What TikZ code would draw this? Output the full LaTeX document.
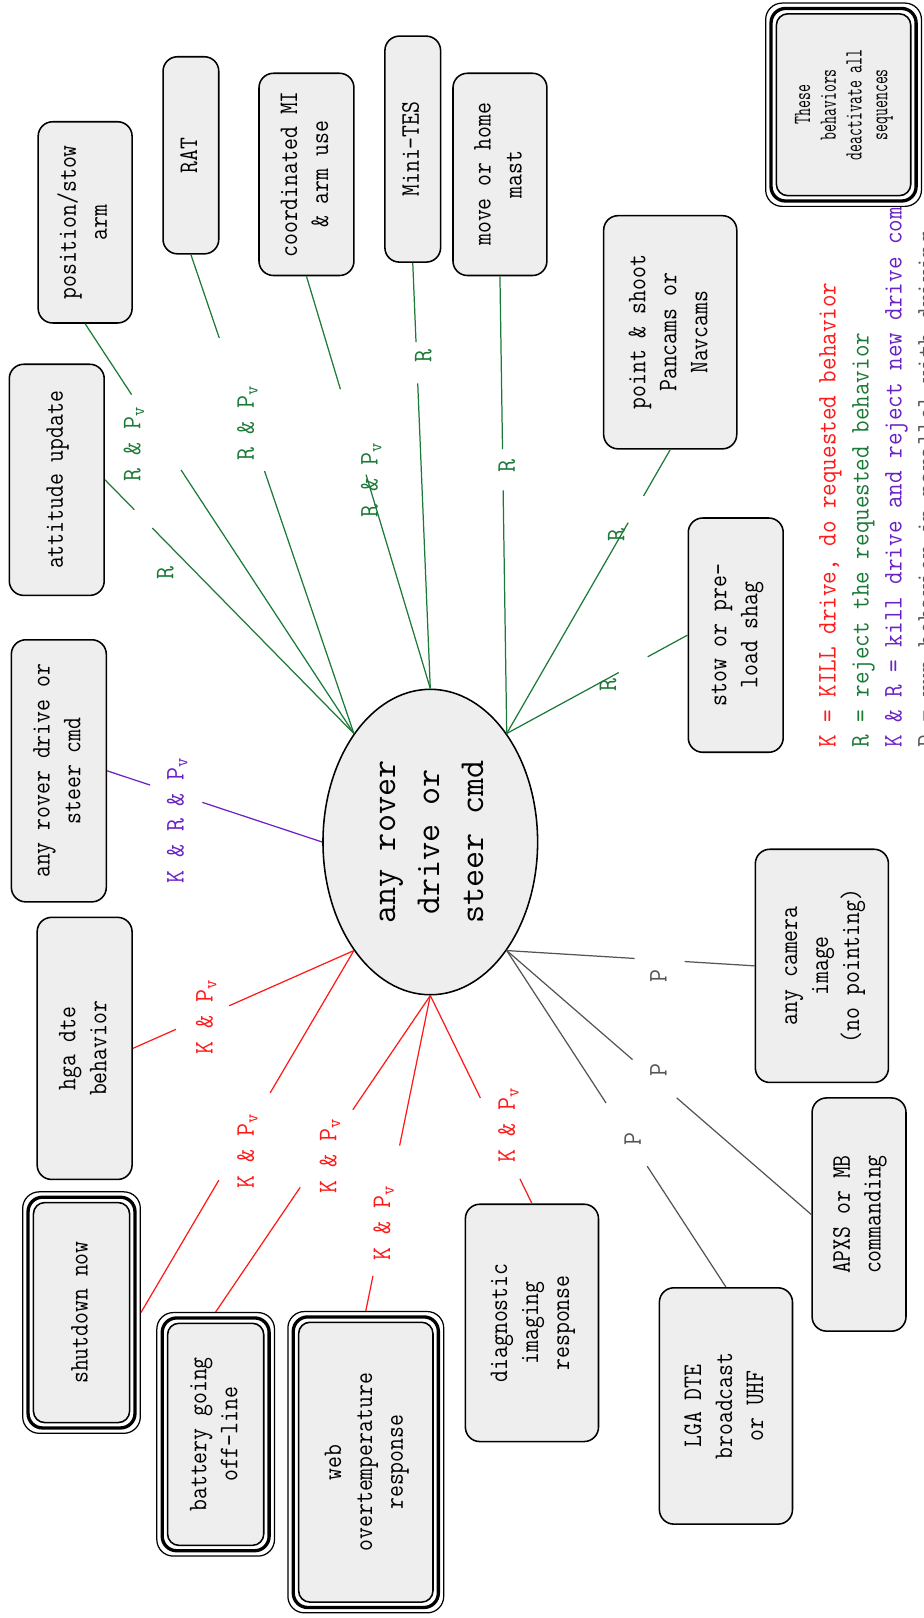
\documentclass[tikz,border=0pt]{standalone}
\usepackage{fontspec}
\usepackage{graphicx}
\usetikzlibrary{shapes.geometric,calc}
\definecolor{kred}{HTML}{FF1A1A}
\definecolor{rgreen}{HTML}{1C7A38}
\definecolor{kpurple}{HTML}{6A22C4}
\definecolor{pgray}{HTML}{555555}
\definecolor{boxfill}{HTML}{EEEEEE}
\newcommand{\boxfont}{\fontsize{13pt}{15pt}\selectfont\ttfamily}
\newcommand{\ellfont}{\fontsize{17pt}{21.3pt}\selectfont\ttfamily\addfontfeatures{FakeBold=1.2}}
\newcommand{\legfont}{\fontsize{13pt}{16pt}\selectfont\ttfamily}
\newcommand{\smfont}{\fontsize{12pt}{12.5pt}\selectfont\ttfamily}
\newcommand{\rottxt}[2][0.86]{\rotatebox{90}{\scalebox{#1}[1]{\begin{tabular}{@{}c@{}}#2\end{tabular}}}}
\newcommand{\gapedge}[5]{\draw[ln,#1] (#2) -- ($(#2)!#4!(#3)$) ($(#2)!#5!(#3)$) -- (#3);}
\begin{document}
\begin{tikzpicture}[x=0.5pt,y=-0.5pt,
  box/.style={draw=black, line width=0.75pt, fill=boxfill, rounded corners=7pt, inner sep=0pt, font=\boxfont},
  tri/.style={draw=black, line width=0.6pt, fill=white, rounded corners=8pt, inner sep=0pt},
  midline/.style={line width=1.6pt, rounded corners=7pt},
  ln/.style={line width=0.6pt},
  lbl/.style={inner sep=0pt, font=\boxfont}]
\useasboundingbox (0,0) rectangle (895,1568);

% legend (partly hidden by the box above and by the page edge)
\node[anchor=south west, inner sep=0pt] (legend) at (787,725) {\rotatebox{90}{\scalebox{0.91}[1]{\legfont\begin{tabular}{@{}l@{}}
\textcolor{kred}{K = KILL drive, do requested behavior}\\
\textcolor{rgreen}{R = reject the requested behavior}\\
\textcolor{kpurple}{K \& R = kill drive and reject new drive commands}\\
\textcolor{pgray}{P = run behavior in parallel with driving}
\end{tabular}}}};

% central ellipse
\node[ellipse, draw=black, line width=0.75pt, fill=boxfill, minimum width=104pt, minimum height=148pt, inner sep=0pt] (el) at (417,816)
  {\rotatebox{90}{\ellfont\begin{tabular}{@{}c@{}}any rover\\drive or\\steer cmd\end{tabular}}};

% plain boxes
\node[box, minimum width=46pt, minimum height=112pt] (attu) at (55,465) {\rottxt{attitude update}};
\node[box, minimum width=45.5pt, minimum height=97.5pt] (pos) at (82.5,215.5) {\rottxt{position/stow\\arm}};
\node[box, minimum width=27pt, minimum height=95.5pt] (rat) at (185,150.5) {\rottxt{RAT}};
\node[box, minimum width=46pt, minimum height=98pt] (coord) at (297,169) {\rottxt{coordinated MI\\\& arm use}};
\node[box, minimum width=27pt, minimum height=109.5pt] (mtes) at (400,144.5) {\rottxt{Mini-TES}};
\node[box, minimum width=45.5pt, minimum height=98pt] (mast) at (484.5,169) {\rottxt{move or home\\mast}};
\node[box, minimum width=64.5pt, minimum height=113pt] (pshoot) at (649.5,322) {\rottxt{point \& shoot\\Pancams or\\Navcams}};
\node[box, minimum width=46pt, minimum height=113.5pt] (stow) at (713,615.5) {\rottxt{stow or pre-\\load shag}};
\node[box, minimum width=46pt, minimum height=127pt] (drv) at (57,747) {\rottxt{any rover drive or\\steer cmd}};
\node[box, minimum width=46pt, minimum height=127pt] (hga) at (82,1016) {\rottxt{hga dte\\behavior}};
\node[box, minimum width=64.5pt, minimum height=115pt] (diag) at (515.5,1282) {\rottxt{diagnostic\\imaging\\response}};
\node[box, minimum width=64.5pt, minimum height=113pt] (cam) at (796.5,936) {\rottxt{any camera\\image\\(no pointing)}};
\node[box, minimum width=45.5pt, minimum height=113pt] (apxs) at (832.5,1177) {\rottxt{APXS or MB\\commanding}};
\node[box, minimum width=64.5pt, minimum height=114.5pt] (lga) at (703.5,1362.5) {\rottxt{LGA DTE\\broadcast\\or UHF}};

% triple-bordered boxes
\node[tri, minimum width=57pt, minimum height=117pt] (shut) at (79,1272) {};
\draw[midline] ([shift={(2.9pt,2.9pt)}]shut.south west) rectangle ([shift={(-2.9pt,-2.9pt)}]shut.north east);
\node[box, rounded corners=5.5pt, minimum width=46.6pt, minimum height=106.6pt] (shuti) at (79,1272) {\rottxt{shutdown now}};

\node[tri, minimum width=57pt, minimum height=118pt] (batt) at (209,1390) {};
\draw[midline] ([shift={(2.9pt,2.9pt)}]batt.south west) rectangle ([shift={(-2.9pt,-2.9pt)}]batt.north east);
\node[box, rounded corners=5.5pt, minimum width=46.6pt, minimum height=107.6pt] (batti) at (209,1390) {\rottxt{battery going\\off-line}};

\node[tri, minimum width=75.5pt, minimum height=146pt] (web) at (354.5,1417) {};
\draw[midline] ([shift={(2.9pt,2.9pt)}]web.south west) rectangle ([shift={(-2.9pt,-2.9pt)}]web.north east);
\node[box, rounded corners=5.5pt, minimum width=65.1pt, minimum height=135.6pt] (webi) at (354.5,1417) {\rottxt{web\\overtemperature\\response}};

\node[tri, minimum width=75.5pt, minimum height=98.5pt] (these) at (817.5,101.5) {};
\draw[midline] ([shift={(2.9pt,2.9pt)}]these.south west) rectangle ([shift={(-2.9pt,-2.9pt)}]these.north east);
\node[box, rounded corners=5.5pt, minimum width=65.1pt, minimum height=88.1pt, font=\smfont] (thesei) at (817.5,101.5) {\rottxt[0.62]{These\\behaviors\\deactivate all\\sequences}};

% connectors (green: R)
\gapedge{draw=rgreen}{attu.east}{el.north west}{0.118}{0.19}
\gapedge{draw=rgreen}{pos.south}{el.north west}{0.173}{0.357}
\gapedge{draw=rgreen}{rat.south}{el.north west}{0.174}{0.452}
\gapedge{draw=rgreen}{coord.south}{el.north}{0.274}{0.481}
\gapedge{draw=rgreen}{mtes.south}{el.north}{0.186}{0.283}
\gapedge{draw=rgreen}{mast.south}{el.north east}{0.378}{0.468}
\gapedge{draw=rgreen}{pshoot.south}{el.north east}{0.163}{0.257}
\gapedge{draw=rgreen}{stow.west}{el.north east}{0.22}{0.38}
% purple
\gapedge{draw=kpurple}{drv.east}{el.west}{0.2}{0.443}
% red
\gapedge{draw=kred}{hga.east}{el.south west}{0.195}{0.436}
\gapedge{draw=kred}{shut.east}{el.south west}{0.366}{0.607}
\gapedge{draw=kred}{batt.north}{el.south}{0.394}{0.639}
\gapedge{draw=kred}{web.north}{el.south}{0.111}{0.524}
\gapedge{draw=kred}{diag.north}{el.south}{0.118}{0.507}
% gray
\gapedge{draw=pgray}{cam.west}{el.south east}{0.282}{0.484}
\gapedge{draw=pgray}{apxs.west}{el.south east}{0.442}{0.587}
\gapedge{draw=pgray}{lga.north}{el.south east}{0.359}{0.547}

% connector labels
\node[lbl, text=rgreen] (l1) at (162,555) {\rottxt[0.94]{R}};
\node[lbl, text=rgreen] (l2) at (130,430) {\rottxt[0.94]{R \& P\textsubscript{v}}};
\node[lbl, text=rgreen] (l3) at (240,410) {\rottxt[0.94]{R \& P\textsubscript{v}}};
\node[lbl, text=rgreen] (l4) at (360,465) {\rottxt[0.94]{R \& P\textsubscript{v}}};
\node[lbl, text=rgreen] (l5) at (412,345) {\rottxt[0.94]{R}};
\node[lbl, text=rgreen] (l6) at (493,452) {\rottxt[0.94]{R}};
\node[lbl, text=rgreen] (l7) at (599,518) {\rottxt[0.94]{R}};
\node[lbl, text=rgreen] (l8) at (591,664) {\rottxt[0.94]{R}};
\node[lbl, text=kpurple] (l9) at (172,795) {\rottxt[0.94]{K \& R \& P\textsubscript{v}}};
\node[lbl, text=kred] (l10) at (200,985) {\rottxt[0.94]{K \& P\textsubscript{v}}};
\node[lbl, text=kred] (l11) at (240,1115) {\rottxt[0.94]{K \& P\textsubscript{v}}};
\node[lbl, text=kred] (l12) at (320,1120) {\rottxt[0.94]{K \& P\textsubscript{v}}};
\node[lbl, text=kred] (l13) at (372,1185) {\rottxt[0.94]{K \& P\textsubscript{v}}};
\node[lbl, text=kred] (l14) at (493,1090) {\rottxt[0.94]{K \& P\textsubscript{v}}};
\node[lbl, text=pgray] (l15) at (640,946) {\rottxt[0.94]{P}};
\node[lbl, text=pgray] (l16) at (640,1037) {\rottxt[0.94]{P}};
\node[lbl, text=pgray] (l17) at (615,1104) {\rottxt[0.94]{P}};
\end{tikzpicture}
\end{document}
